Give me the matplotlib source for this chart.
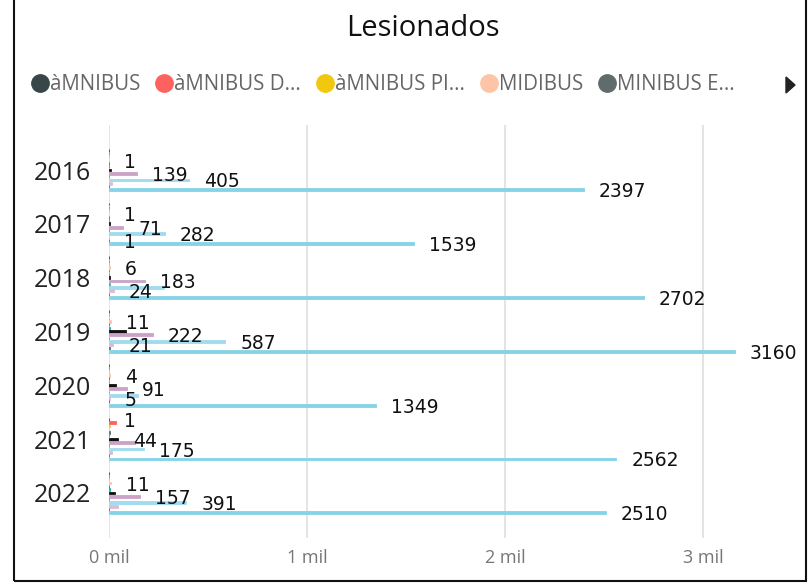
import matplotlib.pyplot as plt
from matplotlib.lines import Line2D
from matplotlib.patches import Rectangle, Polygon

years = ["2016", "2017", "2018", "2019", "2020", "2021", "2022"]

# series in plotting order (top bar of each group first)
series = [
    "àMNIBUS", "àMNIBUS D...", "àMNIBUS PI...", "MIDIBUS", "MINIBUS E...",
    "MICROBUS", "BUS", "BUSETA", "BUS ARTICULADO", "CAMIONETA",
    "MINIBUS", "BUS ESCOLAR", "AUTOBUS",
]
colors = [
    "#374649", "#FD625E", "#F2C80F", "#FEC4A8", "#5F6B6D",
    "#01B8AA", "#111111", "#CBA3C7", "#3DB5A6", "#A0DCEE",
    "#DDBBD5", "#5F6B6D", "#86D3E8",
]

omnibus = [0, 0, 0, 0, 0, 1, 0]
omnibus_d = [0, 0, 0, 0, 0, 35, 0]
omnibus_pi = [0, 0, 0, 0, 0, 3, 0]
midibus = [1, 1, 6, 11, 4, 2, 11]
minibus_e = [0, 0, 0, 0, 2, 3, 0]
microbus = [0, 0, 0, 3, 0, 0, 4]
bus = [8, 6, 5, 86, 35, 44, 30]
buseta = [139, 71, 183, 222, 91, 131, 157]
articulado = [0, 0, 3, 0, 0, 0, 0]
camioneta = [405, 282, 280, 587, 146, 175, 391]
minibus = [15, 0, 24, 21, 5, 15, 44]
escolar = [0, 1, 0, 3, 0, 0, 0]
autobus = [2397, 1539, 2702, 3160, 1349, 2562, 2510]

values = [omnibus, omnibus_d, omnibus_pi, midibus, minibus_e, microbus, bus,
          buseta, articulado, camioneta, minibus, escolar, autobus]

# (year index, series index) pairs that carry a data label
labelled = [
    (0, 3), (0, 7), (0, 9), (0, 12),
    (1, 3), (1, 7), (1, 9), (1, 11), (1, 12),
    (2, 3), (2, 7), (2, 10), (2, 12),
    (3, 3), (3, 7), (3, 10), (3, 9), (3, 12),
    (4, 3), (4, 7), (4, 10), (4, 12),
    (5, 0), (5, 6), (5, 9), (5, 12),
    (6, 3), (6, 7), (6, 9), (6, 12),
]

W, H = 809, 584
fig = plt.figure(figsize=(W / 100, H / 100), dpi=100)
ax = fig.add_axes([109 / W, 1 - 538 / H, (785 - 109) / W, (538 - 125) / H])

slot = 3.3 / 53.8
n = len(series)
for k, vals in enumerate(values):
    ys = [i + (k - (n - 1) / 2) * slot for i in range(len(years))]
    ax.barh(ys, vals, height=slot * 0.85, color=colors[k],
            edgecolor=colors[k], linewidth=0.6, zorder=3)

for i, k in labelled:
    y = i + (k - (n - 1) / 2) * slot
    ax.annotate(str(values[k][i]), (values[k][i], y), xytext=(15, -2),
                textcoords="offset pixels", va="center", ha="left",
                fontsize=13.5, color="#111111", zorder=5)

ax.set_xlim(0, 3414)
ax.set_ylim(len(years) - 1 + 0.836, -0.836)
ax.set_yticks(range(len(years)))
ax.set_yticklabels(years, fontsize=18, color="#222222", family="Open Sans")
ax.set_xticks([0, 1000, 2000, 3000])
ax.set_xticklabels(["0 mil", "1 mil", "2 mil", "3 mil"], fontsize=13,
                   color="#777777", family="Open Sans")
ax.tick_params(axis="both", length=0)
ax.tick_params(axis="y", pad=13)
ax.tick_params(axis="x", pad=8)
ax.grid(axis="x", color="#E4E4E4", linewidth=1.4, zorder=0)
for s in ax.spines.values():
    s.set_visible(False)

fig.text(423 / W, 1 - 29 / H, "Lesionados", ha="center", va="center",
         fontsize=21, family="Open Sans", color="#111111")

handles = [Line2D([], [], marker="o", linestyle="", markersize=12.5,
                  color=colors[k]) for k in range(5)]
fig.legend(handles, series[:5], loc="center left", ncol=5,
           bbox_to_anchor=(10 / W, 1 - 85 / H), frameon=False,
           handletextpad=-0.05, columnspacing=0.6, handlelength=1.1,
           prop={"family": "Open Sans", "size": 14.8}, labelcolor="#666666")

fig.patches.append(Polygon([(786 / W, 1 - 77 / H), (786 / W, 1 - 93 / H),
                            (795 / W, 1 - 85 / H)], closed=True,
                           transform=fig.transFigure, color="#222222"))

# outer frame
fig.patches.append(Rectangle((14 / W, 3 / H), (806 - 14) / W, 1.2,
                             transform=fig.transFigure, fill=False,
                             edgecolor="#111111", linewidth=1.5))

fig.savefig("out.png", dpi=100)
